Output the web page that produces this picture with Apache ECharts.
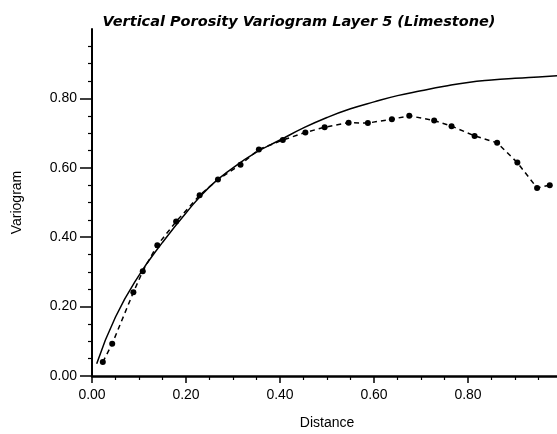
<!DOCTYPE html>
<html>
<head>
<meta charset="utf-8">
<script src="https://cdn.jsdelivr.net/npm/echarts@6/dist/echarts.min.js"></script>
<style>
  html, body { margin: 0; padding: 0; background: #fff; }
  #chart { width: 557px; height: 434px; }
</style>
</head>
<body>
<div id="chart"></div>
<script>
// Experimental variogram (dashed with dots)
const lagDistance = [0.023, 0.043, 0.088, 0.108, 0.139, 0.179, 0.229, 0.268, 0.316, 0.355, 0.406, 0.454, 0.495, 0.546, 0.587, 0.638, 0.675, 0.728, 0.765, 0.814, 0.862, 0.905, 0.947, 0.974];
const lagVariogram = [0.040, 0.093, 0.241, 0.302, 0.377, 0.445, 0.521, 0.566, 0.609, 0.653, 0.680, 0.702, 0.717, 0.730, 0.729, 0.740, 0.750, 0.736, 0.720, 0.692, 0.672, 0.615, 0.542, 0.550];
// Model variogram (solid curve)
const modelDistance = [0.01, 0.05, 0.10, 0.15, 0.20, 0.25, 0.30, 0.35, 0.40, 0.45, 0.50, 0.55, 0.60, 0.65, 0.70, 0.75, 0.80, 0.85, 0.90, 0.95, 1.00];
const modelVariogram = [0.035, 0.17, 0.29, 0.385, 0.47, 0.545, 0.60, 0.645, 0.68, 0.715, 0.745, 0.77, 0.79, 0.808, 0.822, 0.835, 0.846, 0.853, 0.858, 0.862, 0.866];
// Tick labels
const majorTicks = [0, 0.2, 0.4, 0.6, 0.8];

const titleText = 'Vertical Porosity Variogram Layer 5 (Limestone)';
const xName = 'Distance';
const yName = 'Variogram';

const chart = echarts.init(document.getElementById('chart'), null, { renderer: 'canvas' });
const lagPairs = lagDistance.map((d, i) => [d, lagVariogram[i]]);
const modelPairs = modelDistance.map((d, i) => [d, modelVariogram[i]]);

const labelFont = { color: '#000', fontFamily: 'Arial, Liberation Sans, sans-serif', fontSize: 14 };

chart.setOption({
  animation: false,
  backgroundColor: '#fff',
  title: {
    text: titleText,
    left: 294,
    top: 10,
    textAlign: 'center',
    textStyle: { fontFamily: 'DejaVu Sans', fontStyle: 'italic', fontWeight: 'bold', fontSize: 14.5, color: '#000' }
  },
  grid: { left: 92, right: -5, top: 29, bottom: 58, outerBoundsMode: 'none', containLabel: false },
  xAxis: {
    type: 'value', min: 0, max: 1.0, interval: 0.2,
    name: xName, nameLocation: 'middle', nameGap: 40,
    nameTextStyle: labelFont,
    axisLine: { show: true, lineStyle: { color: '#000', width: 2.5 } },
    axisTick: { show: true, length: 7, lineStyle: { color: '#000', width: 1.5 }, customValues: majorTicks },
    minorTick: { show: true, splitNumber: 4, length: 4, lineStyle: { color: '#000', width: 1.2 } },
    axisLabel: Object.assign({ margin: 12, customValues: majorTicks, formatter: v => v.toFixed(2) }, labelFont),
    splitLine: { show: false }
  },
  yAxis: {
    type: 'value', min: 0, max: 1.0, interval: 0.2,
    name: yName, nameLocation: 'middle', nameGap: 68, nameRotate: 90,
    nameTextStyle: labelFont,
    axisLine: { show: true, lineStyle: { color: '#000', width: 2 } },
    axisTick: { show: true, length: 12, lineStyle: { color: '#000', width: 1.5 }, customValues: majorTicks },
    minorTick: { show: true, splitNumber: 4, length: 4, lineStyle: { color: '#000', width: 1.2 } },
    axisLabel: Object.assign({ margin: 15, customValues: majorTicks, formatter: v => v.toFixed(2) }, labelFont),
    splitLine: { show: false }
  },
  series: [
    {
      type: 'line', data: modelPairs, smooth: true, showSymbol: false, symbol: 'none',
      lineStyle: { color: '#000', width: 1.5 }, z: 3
    },
    {
      type: 'line', data: lagPairs, symbol: 'circle', symbolSize: 6, showSymbol: true,
      itemStyle: { color: '#000' },
      lineStyle: { color: '#000', width: 1.5, type: [5, 4] }, z: 4
    }
  ]
});
</script>
</body>
</html>
